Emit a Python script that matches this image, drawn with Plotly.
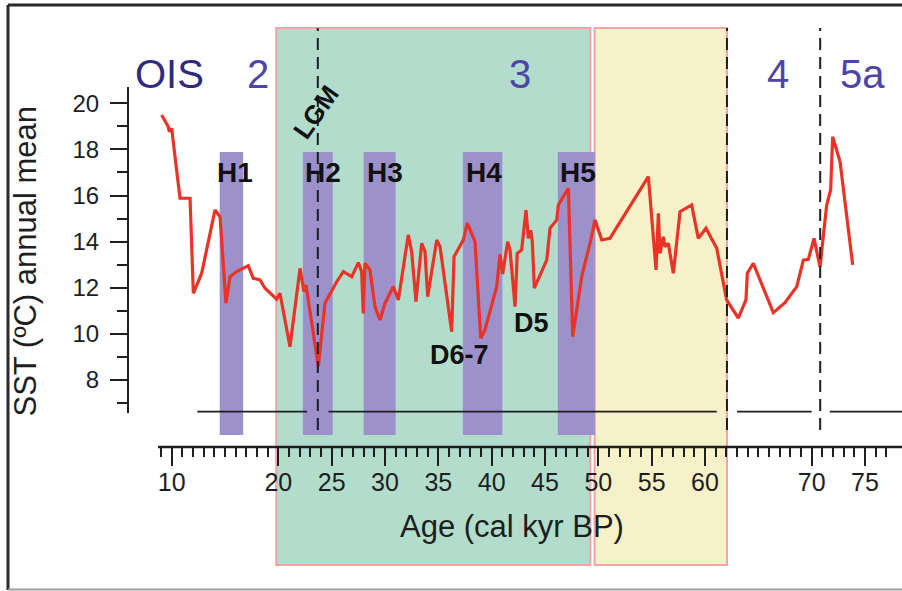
import plotly.graph_objects as go

# ---------------- data ----------------
age = [9.06, 9.68, 9.78, 10.0, 10.31, 10.78, 11.72, 12.03, 12.81, 14.06, 14.53, 15.09, 15.47, 16.09,
       17.18, 17.65, 18.28, 18.75, 19.84, 20.15, 21.09, 22.03, 22.40, 22.59, 23.75, 24.37, 25.47, 26.09,
       26.88, 27.5, 27.81, 27.96, 28.12, 28.59, 29.06, 29.53, 30.0, 30.78, 31.25, 32.18, 32.5, 32.9,
       33.44, 33.75, 34.0, 34.85, 35.16, 36.25, 36.47, 37.03, 37.34, 37.72, 38.44, 38.97, 39.37, 40.47,
       40.78, 41.03, 41.5, 41.72, 42.19, 42.4, 42.81, 43.22, 43.44, 43.66, 43.81, 44.0, 45.16, 45.47,
       46.1, 46.25, 47.03, 47.19, 47.6, 48.44, 49.22, 49.69, 50.32, 51.09, 54.69, 55.41, 55.63, 55.78,
       56.09, 56.25, 56.56, 57.03, 57.66, 58.75, 59.37, 60.09, 61.1, 62.03, 63.12, 63.84, 63.97, 64.53,
       66.4, 67.5, 68.6, 69.22, 69.69, 70.22, 70.78, 71.41, 71.78, 71.97, 72.66, 73.85]
sst = [19.49, 18.98, 18.77, 18.91, 17.68, 15.88, 15.88, 11.76, 12.63, 15.37, 15.08, 11.33, 12.48, 12.70,
       12.96, 12.41, 12.34, 11.98, 11.50, 11.76, 9.44, 12.84, 11.83, 12.12, 8.58, 11.33, 12.26, 12.70,
       12.48, 13.09, 12.70, 10.89, 13.06, 12.77, 11.18, 10.60, 11.33, 12.05, 11.47, 14.29, 13.56, 11.40,
       13.93, 13.56, 11.61, 14.07, 13.78, 10.09, 13.35, 13.78, 14.07, 14.80, 14.0, 9.81, 10.17, 12.05,
       13.45, 12.6, 14.0, 13.64, 11.18, 13.49, 13.64, 15.37, 14.14, 14.50, 14.0, 11.98, 13.20, 14.58,
       14.94, 15.59, 16.17, 16.31, 9.88, 12.48, 13.93, 14.94, 14.07, 14.14, 16.82, 12.77, 15.23, 13.49,
       14.21, 13.78, 13.93, 12.63, 15.30, 15.59, 14.14, 14.58, 13.71, 11.47, 10.68, 11.47, 12.63, 13.06,
       10.92, 11.35, 12.05, 13.20, 13.23, 14.14, 12.91, 15.59, 16.24, 18.55, 17.47, 12.99]

# Heinrich events (start, end in kyr BP)
h_names = ["H1", "H2", "H3", "H4", "H5"]
h_start = [14.5, 22.3, 28.0, 37.3, 46.2]
h_end = [16.7, 25.1, 31.0, 41.0, 49.7]
h_label_x = [15.93, 24.19, 30.0, 39.28, 48.09]

# OIS stage boundaries / shaded intervals
ois3_green = (19.8, 49.25)
ois3_yellow = (49.65, 62.06)
stage_bounds = [23.7, 62.06, 70.8]          # dashed verticals (LGM, 3/4, 4/5a)
seg_start = [12.4, 24.7, 63.0, 71.7]        # horizontal segments
seg_end = [22.7, 61.1, 70.0, 78.47]
seg_level = 6.63

ois_labels = ["OIS", "2", "3", "4", "5a"]
ois_x = [9.84, 18.09, 42.66, 66.85, 74.73]
ois_y = 21.27

d_labels = ["D6-7", "D5"]
d_x = [36.94, 43.69]
d_y = [9.08, 10.47]

x_major = [10, 15, 20, 25, 30, 35, 40, 45, 50, 55, 60, 65, 70, 75]
x_major_text = ["10", "", "20", "25", "30", "35", "40", "45", "50", "55", "60", "", "70", "75"]
x_minor = list(range(9, 78))
y_major = [8, 10, 12, 14, 16, 18, 20]
y_minor = [7, 9, 11, 13, 15, 17, 19]

XR = [5.903, 78.47]
YR = [5.094, 24.478]
X_AXIS_START = 8.72
Y_AXIS_SPAN = (6.57, 20.7)

# ---------------- layout helpers ----------------
W, H = 902, 591
ML, MR, MT, MB = 128, 0, 0, 144
PW, PH = W - ML - MR, H - MT - MB

def pyp(py):  # pixel row -> paper y
    return (H - MB - py) / PH

def pxp(px):  # pixel column -> paper x
    return (px - ML) / PW

RED = "#ea3326"
PURPLE = "#9c91cb"
GREEN = "#b2ddcc"
YELLOW = "#f6f1c8"
PINK = "#f2a3a8"
INK = "#1e1e1e"
FONT = "Liberation Sans, Arial, sans-serif"

shapes = []
shapes.append(dict(type="rect", xref="x", yref="paper", x0=ois3_green[0], x1=ois3_green[1],
                   y0=pyp(565), y1=pyp(28), fillcolor=GREEN, line=dict(color=PINK, width=2),
                   layer="below"))
shapes.append(dict(type="rect", xref="x", yref="paper", x0=ois3_yellow[0], x1=ois3_yellow[1],
                   y0=pyp(565), y1=pyp(28), fillcolor=YELLOW, line=dict(color=PINK, width=2),
                   layer="below"))
for s, e in zip(h_start, h_end):
    shapes.append(dict(type="rect", xref="x", yref="paper", x0=s, x1=e, y0=pyp(435), y1=pyp(152),
                       fillcolor=PURPLE, line=dict(width=0), layer="below"))
for xb in stage_bounds:
    shapes.append(dict(type="line", xref="x", yref="paper", x0=xb, x1=xb, y0=pyp(430), y1=pyp(28),
                       line=dict(color=INK, width=2, dash="12px,7px"), layer="above"))
for s, e in zip(seg_start, seg_end):
    shapes.append(dict(type="line", xref="x", yref="y", x0=s, x1=e, y0=seg_level, y1=seg_level,
                       line=dict(color=INK, width=1.6), layer="above"))
shapes.append(dict(type="line", xref="x", yref="paper", x0=X_AXIS_START, x1=XR[1], y0=0, y1=0,
                   line=dict(color=INK, width=2.5)))
shapes.append(dict(type="line", xref="paper", yref="y", x0=0, x1=0, y0=Y_AXIS_SPAN[0], y1=Y_AXIS_SPAN[1],
                   line=dict(color=INK, width=2)))
shapes.append(dict(type="line", xref="paper", yref="paper", x0=pxp(8), x1=pxp(8), y0=pyp(590), y1=pyp(5),
                   line=dict(color="#2a2a2a", width=3)))
shapes.append(dict(type="line", xref="paper", yref="paper", x0=pxp(8), x1=pxp(902), y0=pyp(5), y1=pyp(5),
                   line=dict(color="#2a2a2a", width=3)))
shapes.append(dict(type="line", xref="paper", yref="paper", x0=pxp(8), x1=pxp(902), y0=pyp(589.5), y1=pyp(589.5),
                   line=dict(color="#9a9a9a", width=2)))

annotations = []
for t, x in zip(ois_labels, ois_x):
    annotations.append(dict(text=t, x=x, y=ois_y, xref="x", yref="y", showarrow=False,
                            xanchor="center", yanchor="middle",
                            font=dict(family=FONT, size=40,
                                      color="#2f2a80" if t == "OIS" else "#4e45a6")))
for t, x in zip(h_names, h_label_x):
    annotations.append(dict(text="<b>%s</b>" % t, x=x, y=16.98, xref="x", yref="y", showarrow=False,
                            xanchor="center", yanchor="middle",
                            font=dict(family=FONT, size=28, color="#111")))
for t, x, y in zip(d_labels, d_x, d_y):
    annotations.append(dict(text="<b>%s</b>" % t, x=x, y=y, xref="x", yref="y", showarrow=False,
                            xanchor="center", yanchor="middle",
                            font=dict(family=FONT, size=27, color="#111")))
annotations.append(dict(text="<b>LGM</b>", x=23.53, y=19.62, xref="x", yref="y", showarrow=False,
                        xanchor="center", yanchor="middle",
                        textangle=-55, font=dict(family=FONT, size=26, color="#111")))
annotations.append(dict(text="Age (cal kyr BP)", x=pxp(511.5), y=pyp(526), xref="paper", yref="paper",
                        xanchor="center", yanchor="middle",
                        showarrow=False, font=dict(family=FONT, size=31, color=INK)))
annotations.append(dict(text="SST (ºC) annual mean", x=pxp(25.5), y=pyp(261), xref="paper", yref="paper",
                        xanchor="center", yanchor="middle",
                        showarrow=False, textangle=-90, font=dict(family=FONT, size=31, color=INK)))

fig = go.Figure()
fig.add_trace(go.Scatter(x=age, y=sst, mode="lines", line=dict(color=RED, width=3.2),
                         showlegend=False, hoverinfo="x+y"))

fig.update_layout(
    width=W, height=H,
    margin=dict(l=ML, r=MR, t=MT, b=MB, pad=0),
    paper_bgcolor="white", plot_bgcolor="white",
    shapes=shapes, annotations=annotations,
    showlegend=False,
    xaxis=dict(range=XR, showgrid=False, zeroline=False, showline=False,
               tickmode="array", tickvals=x_major, ticktext=x_major_text,
               ticks="outside", ticklen=18, tickwidth=2, tickcolor=INK,
               ticklabelstandoff=-5,
               tickfont=dict(family=FONT, size=25, color=INK),
               minor=dict(tickmode="array", tickvals=x_minor, ticks="outside", ticklen=9,
                          tickwidth=1.6, tickcolor=INK, showgrid=False)),
    yaxis=dict(range=YR, showgrid=False, zeroline=False, showline=False,
               tickmode="array", tickvals=y_major, ticktext=[str(v) for v in y_major],
               ticks="outside", ticklen=17, tickwidth=2, tickcolor=INK,
               ticklabelstandoff=6,
               tickfont=dict(family=FONT, size=24, color=INK),
               minor=dict(tickmode="array", tickvals=y_minor, ticks="outside", ticklen=10,
                          tickwidth=1.6, tickcolor=INK, showgrid=False)),
)

fig.write_html("out.html")
